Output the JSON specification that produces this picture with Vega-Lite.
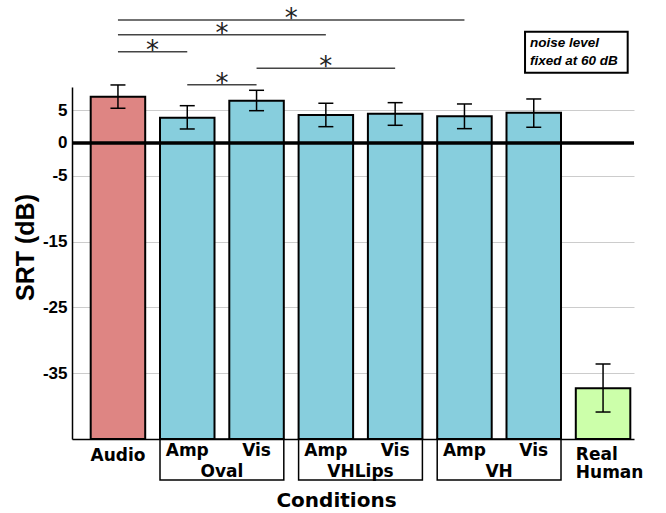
{
  "$schema": "https://vega.github.io/schema/vega-lite/v6.json",
  "width": 562,
  "height": 352,
  "autosize": {"type": "none"},
  "padding": {"left": 72, "top": 87, "right": 32, "bottom": 74},
  "background": "white",
  "config": {"view": {"stroke": null}},
  "datasets": {
    "bars": [
      {"cond": "Audio", "sub": "Audio", "kind": "audio", "mean": 7.03, "lo": 5.27, "hi": 8.81},
      {"cond": "Oval Amp", "sub": "Amp", "kind": "avatar", "mean": 3.84, "lo": 2.12, "hi": 5.66},
      {"cond": "Oval Vis", "sub": "Vis", "kind": "avatar", "mean": 6.42, "lo": 4.9, "hi": 8.0},
      {"cond": "VHLips Amp", "sub": "Amp", "kind": "avatar", "mean": 4.25, "lo": 2.47, "hi": 6.03},
      {"cond": "VHLips Vis", "sub": "Vis", "kind": "avatar", "mean": 4.45, "lo": 2.68, "hi": 6.12},
      {"cond": "VH Amp", "sub": "Amp", "kind": "avatar", "mean": 4.05, "lo": 2.17, "hi": 5.92},
      {"cond": "VH Vis", "sub": "Vis", "kind": "avatar", "mean": 4.6, "lo": 2.38, "hi": 6.68},
      {"cond": "Real Human", "sub": "Real\nHuman", "kind": "human", "mean": -37.29, "lo": -40.9, "hi": -33.6}
    ],
    "groups": [
      {"grp": "Oval", "amp": "Oval Amp", "vis": "Oval Vis"},
      {"grp": "VHLips", "amp": "VHLips Amp", "vis": "VHLips Vis"},
      {"grp": "VH", "amp": "VH Amp", "vis": "VH Vis"}
    ],
    "sig": [
      {"from": "Audio", "to": "VH Amp", "lvl": 18.69, "star": "Oval Vis", "between": true},
      {"from": "Audio", "to": "VHLips Amp", "lvl": 16.45, "star": "Oval Amp", "between": true},
      {"from": "Audio", "to": "Oval Amp", "lvl": 13.87, "star": "Audio", "between": true},
      {"from": "Oval Vis", "to": "VHLips Vis", "lvl": 11.35, "star": "VHLips Amp", "between": false},
      {"from": "Oval Amp", "to": "Oval Vis", "lvl": 8.85, "star": "Oval Amp", "between": true}
    ],
    "note": [{"text": "noise level\nfixed at 60 dB"}]
  },
  "layer": [
    {
      "data": {"name": "bars"},
      "mark": {"type": "bar", "stroke": "black", "strokeWidth": 2},
      "encoding": {
        "x": {
          "field": "cond", "type": "nominal", "sort": null,
          "scale": {
            "domain": ["Audio", "Oval Amp", "Oval Vis", "VHLips Amp", "VHLips Vis", "VH Amp", "VH Vis", "Real Human"],
            "paddingInner": 0.2135, "paddingOuter": 0.1616, "align": 0.835
          },
          "axis": {
            "title": "Conditions", "labels": false, "ticks": false, "grid": false,
            "domain": true, "domainColor": "black", "domainWidth": 1.5,
            "titleFont": "DejaVu Sans", "titleFontWeight": "bold", "titleFontSize": 20, "titleColor": "black",
            "titleX": 264, "titleY": 67, "titleBaseline": "alphabetic", "titleAlign": "center"
          }
        },
        "y": {
          "field": "mean", "type": "quantitative",
          "scale": {"domain": [-45, 8.5], "nice": false, "zero": false},
          "axis": {
            "title": "SRT (dB)", "values": [5, 0, -5, -15, -25, -35],
            "labelExpr": "'' + datum.value",
            "grid": true, "gridColor": "#cccccc", "gridWidth": 1,
            "ticks": false, "labelPadding": 5,
            "labelFont": "Liberation Sans", "labelFontWeight": "bold", "labelFontSize": 17, "labelColor": "black",
            "domainColor": "black", "domainWidth": 1.5,
            "titleFont": "Liberation Sans", "titleFontWeight": "bold", "titleFontSize": 25, "titleColor": "black",
            "titleX": -47, "titleY": 160, "titleBaseline": "middle", "titleAlign": "center", "titleAngle": -90
          }
        },
        "y2": {"datum": -45},
        "color": {
          "field": "kind", "type": "nominal",
          "scale": {"domain": ["audio", "avatar", "human"], "range": ["#DE8583", "#87CEDD", "#CCFFAA"]},
          "legend": null
        }
      }
    },
    {
      "data": {"values": [{}]},
      "mark": {"type": "rule", "strokeWidth": 3.5, "color": "black"},
      "encoding": {"y": {"datum": 0}}
    },
    {
      "data": {"name": "bars"},
      "mark": {"type": "rule", "strokeWidth": 1.5, "color": "black"},
      "encoding": {
        "x": {"field": "cond", "type": "nominal"},
        "y": {"field": "lo", "type": "quantitative"},
        "y2": {"field": "hi"}
      }
    },
    {
      "data": {"name": "bars"},
      "mark": {"type": "tick", "size": 15, "thickness": 1.5, "color": "black", "opacity": 1},
      "encoding": {
        "x": {"field": "cond", "type": "nominal"},
        "y": {"field": "lo", "type": "quantitative"}
      }
    },
    {
      "data": {"name": "bars"},
      "mark": {"type": "tick", "size": 15, "thickness": 1.5, "color": "black", "opacity": 1},
      "encoding": {
        "x": {"field": "cond", "type": "nominal"},
        "y": {"field": "hi", "type": "quantitative"}
      }
    },
    {
      "data": {"name": "bars"},
      "transform": [{"filter": "datum.sub == 'Audio'"}],
      "mark": {"type": "text", "font": "DejaVu Sans", "fontWeight": "bold", "fontSize": 17, "color": "black", "align": "center", "baseline": "alphabetic", "dy": 21.5},
      "encoding": {
        "x": {"field": "cond", "type": "nominal"},
        "y": {"datum": -45},
        "text": {"field": "sub"}
      }
    },
    {
      "data": {"name": "bars"},
      "transform": [{"filter": "datum.sub == 'Amp' || datum.sub == 'Vis'"}],
      "mark": {"type": "text", "font": "DejaVu Sans", "fontWeight": "bold", "fontSize": 17, "color": "black", "align": "center", "baseline": "alphabetic", "dy": 17},
      "encoding": {
        "x": {"field": "cond", "type": "nominal"},
        "y": {"datum": -45},
        "text": {"field": "sub"}
      }
    },
    {
      "data": {"name": "bars"},
      "transform": [{"filter": "datum.kind == 'human'"}],
      "mark": {"type": "text", "font": "DejaVu Sans", "fontWeight": "bold", "fontSize": 17, "color": "black", "align": "left", "baseline": "alphabetic", "dy": 21, "lineBreak": "\n", "lineHeight": 17.5},
      "encoding": {
        "x": {"field": "cond", "type": "nominal", "bandPosition": 0},
        "y": {"datum": -45},
        "text": {"field": "sub"}
      }
    },
    {
      "data": {"name": "groups"},
      "mark": {"type": "rect", "fill": "white", "fillOpacity": 0, "stroke": "black", "strokeWidth": 1.5},
      "encoding": {
        "x": {"field": "amp", "type": "nominal", "bandPosition": 0},
        "x2": {"field": "vis", "bandPosition": 1},
        "y": {"datum": -45},
        "y2": {"datum": -51.23}
      }
    },
    {
      "data": {"name": "groups"},
      "mark": {"type": "text", "font": "DejaVu Sans", "fontWeight": "bold", "fontSize": 17, "color": "black", "align": "center", "baseline": "alphabetic", "dy": 37.7},
      "encoding": {
        "x": {"field": "amp", "type": "nominal", "bandPosition": 1.136},
        "y": {"datum": -45},
        "text": {"field": "grp"}
      }
    },
    {
      "data": {"name": "sig"},
      "mark": {"type": "rule", "strokeWidth": 1.5, "color": "#444444"},
      "encoding": {
        "x": {"field": "from", "type": "nominal", "bandPosition": 0.5},
        "x2": {"field": "to", "bandPosition": 0.5},
        "y": {"field": "lvl", "type": "quantitative"}
      }
    },
    {
      "data": {"name": "sig"},
      "transform": [{"filter": "datum.between"}],
      "mark": {"type": "text", "text": "*", "font": "DejaVu Sans", "fontSize": 26, "color": "#222222", "align": "center", "baseline": "alphabetic", "dy": 7},
      "encoding": {
        "x": {"field": "star", "type": "nominal", "bandPosition": 1.136},
        "y": {"field": "lvl", "type": "quantitative"}
      }
    },
    {
      "data": {"name": "sig"},
      "transform": [{"filter": "!datum.between"}],
      "mark": {"type": "text", "text": "*", "font": "DejaVu Sans", "fontSize": 26, "color": "#222222", "align": "center", "baseline": "alphabetic", "dy": 7},
      "encoding": {
        "x": {"field": "star", "type": "nominal", "bandPosition": 0.5},
        "y": {"field": "lvl", "type": "quantitative"}
      }
    },
    {
      "data": {"name": "note"},
      "mark": {"type": "rect", "fill": "white", "stroke": "black", "strokeWidth": 2},
      "encoding": {
        "x": {"datum": "VH Vis", "bandPosition": 0.34},
        "x2": {"datum": "Real Human", "bandPosition": 0.952},
        "y": {"datum": 16.91},
        "y2": {"datum": 10.68}
      }
    },
    {
      "data": {"name": "note"},
      "mark": {"type": "text", "font": "Liberation Sans", "fontWeight": "bold", "fontStyle": "italic", "fontSize": 13.5, "color": "black", "align": "left", "baseline": "alphabetic", "lineBreak": "\n", "lineHeight": 18.3},
      "encoding": {
        "x": {"datum": "VH Vis", "bandPosition": 0.43},
        "y": {"datum": 14.64},
        "text": {"field": "text"}
      }
    }
  ]
}
